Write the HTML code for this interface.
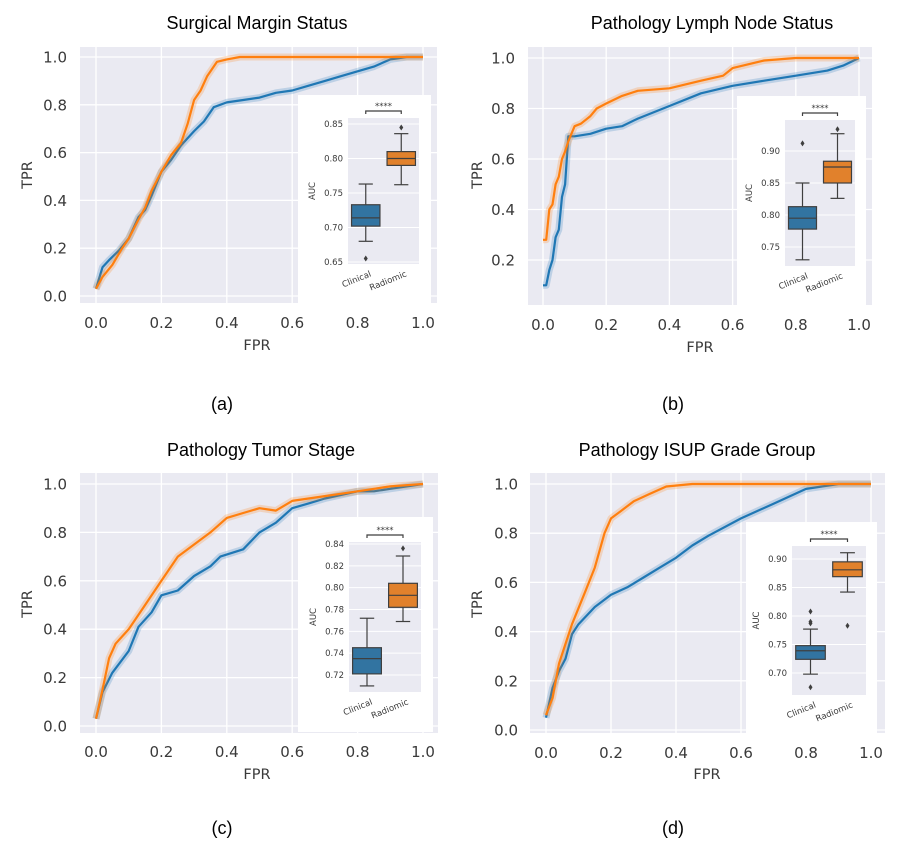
<!DOCTYPE html>
<html><head><meta charset="utf-8">
<style>
body{margin:0;background:#fff;width:898px;height:855px;overflow:hidden}
svg{display:block}
text{font-family:"DejaVu Sans","Liberation Sans",sans-serif}
.title{font-family:"Liberation Sans",sans-serif;font-size:18px;fill:#000}
.cap{font-family:"Liberation Sans",sans-serif;font-size:18px;fill:#000}
.tick{font-size:15px;fill:#3a3a3a}
.alab{font-size:14.5px;fill:#3a3a3a}
.itick{font-size:8.5px;fill:#3a3a3a}
</style></head>
<body>
<svg id="fig" width="898" height="855"></svg>
<script>
// ---------- data ----------
const panelTitles = ["Surgical Margin Status","Pathology Lymph Node Status","Pathology Tumor Stage","Pathology ISUP Grade Group"];
const panelCaptions = ["(a)","(b)","(c)","(d)"];
const rocXTicks = [0,0.2,0.4,0.6,0.8,1.0];
const rocXTickLabels = ["0.0","0.2","0.4","0.6","0.8","1.0"];
const rocYTicksA = [0,0.2,0.4,0.6,0.8,1.0];
const rocYTicksB = [0.2,0.4,0.6,0.8,1.0];
const seriesNames = ["Clinical","Radiomic"];

const aClinFpr = [0,0.02,0.04,0.07,0.1,0.13,0.15,0.17,0.2,0.23,0.26,0.3,0.33,0.36,0.4,0.45,0.5,0.55,0.6,0.65,0.7,0.75,0.8,0.85,0.9,0.95,1.0];
const aClinTpr = [0.03,0.12,0.15,0.19,0.24,0.33,0.36,0.42,0.52,0.57,0.63,0.69,0.73,0.79,0.81,0.82,0.83,0.85,0.86,0.88,0.9,0.92,0.94,0.96,0.99,1.0,1.0];
const aRadFpr = [0,0.02,0.05,0.08,0.1,0.13,0.15,0.17,0.2,0.23,0.26,0.28,0.3,0.32,0.34,0.37,0.4,0.44,1.0];
const aRadTpr = [0.03,0.08,0.13,0.2,0.24,0.32,0.37,0.44,0.52,0.59,0.64,0.72,0.82,0.86,0.92,0.98,0.99,1.0,1.0];

const bClinFpr = [0,0.01,0.02,0.03,0.04,0.05,0.06,0.07,0.08,0.1,0.15,0.2,0.25,0.3,0.4,0.5,0.6,0.7,0.8,0.9,0.95,1.0];
const bClinTpr = [0.1,0.1,0.16,0.2,0.29,0.32,0.45,0.5,0.69,0.69,0.7,0.72,0.73,0.76,0.81,0.86,0.89,0.91,0.93,0.95,0.97,1.0];
const bRadFpr = [0,0.01,0.02,0.03,0.04,0.05,0.06,0.07,0.08,0.1,0.12,0.15,0.17,0.2,0.25,0.3,0.4,0.5,0.57,0.6,0.7,0.8,1.0];
const bRadTpr = [0.28,0.28,0.4,0.42,0.5,0.53,0.6,0.63,0.67,0.73,0.74,0.77,0.8,0.82,0.85,0.87,0.88,0.91,0.93,0.96,0.99,1.0,1.0];

const cClinFpr = [0,0.02,0.05,0.1,0.13,0.17,0.2,0.25,0.3,0.35,0.38,0.45,0.5,0.55,0.6,0.65,0.7,0.8,0.85,0.9,1.0];
const cClinTpr = [0.03,0.14,0.22,0.31,0.41,0.47,0.54,0.56,0.62,0.66,0.7,0.73,0.8,0.84,0.9,0.92,0.94,0.97,0.97,0.98,1.0];
const cRadFpr = [0,0.02,0.04,0.06,0.1,0.15,0.2,0.25,0.3,0.35,0.4,0.45,0.5,0.55,0.6,0.7,0.8,0.9,1.0];
const cRadTpr = [0.03,0.15,0.28,0.34,0.4,0.5,0.6,0.7,0.75,0.8,0.86,0.88,0.9,0.89,0.93,0.95,0.97,0.99,1.0];

const dClinFpr = [0,0.02,0.04,0.06,0.08,0.1,0.15,0.2,0.25,0.3,0.35,0.4,0.45,0.5,0.6,0.7,0.8,0.9,1.0];
const dClinTpr = [0.05,0.17,0.24,0.29,0.39,0.43,0.5,0.55,0.58,0.62,0.66,0.7,0.75,0.79,0.86,0.92,0.98,1.0,1.0];
const dRadFpr = [0,0.02,0.04,0.06,0.08,0.12,0.15,0.18,0.2,0.23,0.27,0.32,0.37,0.45,1.0];
const dRadTpr = [0.06,0.13,0.27,0.35,0.43,0.56,0.66,0.8,0.86,0.89,0.93,0.96,0.99,1.0,1.0];

// box stats: [whiskerLo, q1, median, q3, whiskerHi]
const aBoxClin = [0.68,0.702,0.714,0.733,0.763], aOutClin = [0.655];
const aBoxRad  = [0.762,0.790,0.800,0.810,0.836], aOutRad = [0.845];
const bBoxClin = [0.73,0.778,0.795,0.813,0.85],   bOutClin = [0.912];
const bBoxRad  = [0.826,0.85,0.875,0.884,0.927],  bOutRad = [0.934];
const cBoxClin = [0.71,0.721,0.735,0.745,0.772],  cOutClin = [];
const cBoxRad  = [0.769,0.782,0.793,0.804,0.829], cOutRad = [0.836];
const dBoxClin = [0.698,0.724,0.739,0.748,0.777], dOutClin = [0.675,0.787,0.79,0.808];
const dBoxRad  = [0.842,0.869,0.881,0.895,0.911], dOutRad = [0.783];

const aAucTicks = [0.65,0.70,0.75,0.80,0.85];
const bAucTicks = [0.75,0.80,0.85,0.90];
const cAucTicks = [0.72,0.74,0.76,0.78,0.80,0.82,0.84];
const dAucTicks = [0.70,0.75,0.80,0.85,0.90];

// ---------- layout ----------
const layouts = [
 {bg:[80,47,437,303], x0:96,x1:423, y0:296,y1:57, yt:rocYTicksA, ytx:67, xty:328, tpr:[32,175], fpr:[257,350], title:[257,29], cap:[222,410],
  inset:[298,95,431,303], inner:[348,118,419,264], aucMap:[0.85,124,0.65,262], aucT:aAucTicks, dec:2,
  clin:[aClinFpr,aClinTpr], rad:[aRadFpr,aRadTpr], box:[aBoxClin,aBoxRad], out:[aOutClin,aOutRad]},
 {bg:[528,47,872,305], x0:543,x1:859, y0:310.5,y1:58, yt:rocYTicksB, ytx:515, xty:330, tpr:[482,175], fpr:[700,352], title:[712,29], cap:[673,410],
  inset:[737,96,866,305], inner:[785,120,855,266], aucMap:[0.90,151,0.75,247], aucT:bAucTicks, dec:2,
  clin:[bClinFpr,bClinTpr], rad:[bRadFpr,bRadTpr], box:[bBoxClin,bBoxRad], out:[bOutClin,bOutRad]},
 {bg:[80,473,438,733], x0:96,x1:423, y0:726,y1:484, yt:rocYTicksA, ytx:67, xty:757, tpr:[32,604], fpr:[257,779], title:[261,456], cap:[222,834],
  inset:[298,517,433,732], inner:[349,542,421,692], aucMap:[0.84,544,0.72,675], aucT:cAucTicks, dec:2,
  clin:[cClinFpr,cClinTpr], rad:[cRadFpr,cRadTpr], box:[cBoxClin,cBoxRad], out:[cOutClin,cOutRad]},
 {bg:[530,473,885,733], x0:546,x1:871, y0:730,y1:484, yt:rocYTicksA, ytx:518, xty:758, tpr:[482,604], fpr:[707,779], title:[697,456], cap:[673,834],
  inset:[746,522,877,733], inner:[792,546,866,695], aucMap:[0.90,559,0.70,673], aucT:dAucTicks, dec:2,
  clin:[dClinFpr,dClinTpr], rad:[dRadFpr,dRadTpr], box:[dBoxClin,dBoxRad], out:[dOutClin,dOutRad]}
];

const NS="http://www.w3.org/2000/svg";
const svg=document.getElementById('fig');
function mk(tag,attrs,parent){const e=document.createElementNS(NS,tag);for(const k in attrs)e.setAttribute(k,attrs[k]);(parent||svg).appendChild(e);return e;}

const LINE=["#1f77b4","#ff7f0e"], BOX=["#3274a1","#e1812c"];

layouts.forEach((L,pi)=>{
  const g=mk('g',{});
  
  
  const sx=v=>L.x0+(L.x1-L.x0)*v, sy=v=>L.y0+(L.y1-L.y0)*v;
  const bg=mk('rect',{x:L.bg[0],y:L.bg[1],width:L.bg[2]-L.bg[0],height:L.bg[3]-L.bg[1],fill:'#eaeaf2'},g);
  
  
  rocXTicks.forEach((t,i)=>{
    mk('line',{x1:sx(t),x2:sx(t),y1:L.bg[1],y2:L.bg[3],stroke:'#fff','stroke-width':1.3},g);
    const tx=mk('text',{x:sx(t),y:L.xty,'text-anchor':'middle',class:'tick'},g);tx.textContent=rocXTickLabels[i];
    
    
  });
  L.yt.forEach(t=>{
    mk('line',{x1:L.bg[0],x2:L.bg[2],y1:sy(t),y2:sy(t),stroke:'#fff','stroke-width':1.3},g);
    const ty=mk('text',{x:L.ytx,y:sy(t)+5.5,'text-anchor':'end',class:'tick'},g);ty.textContent=t.toFixed(1);
    
    
  });
  [L.clin,L.rad].forEach((s,si)=>{
    const pts=s[0].map((f,i)=>sx(f).toFixed(1)+','+sy(s[1][i]).toFixed(1)).join(' ');
    const band=mk('polyline',{points:pts,fill:'none',stroke:LINE[si],'stroke-width':7,'stroke-opacity':0.22,'stroke-linejoin':'round'},g);
    
    
    const ln=mk('polyline',{points:pts,fill:'none',stroke:LINE[si],'stroke-width':2.2,'stroke-linejoin':'round'},g);
    
    
  });
  const t=mk('text',{x:L.title[0],y:L.title[1],'text-anchor':'middle',class:'title'},g);t.textContent=panelTitles[pi];
  
  
  const yl=mk('text',{x:L.tpr[0],y:L.tpr[1],'text-anchor':'middle',class:'alab',transform:`rotate(-90 ${L.tpr[0]} ${L.tpr[1]})`},g);yl.textContent='TPR';
  
  
  const xl=mk('text',{x:L.fpr[0],y:L.fpr[1],'text-anchor':'middle',class:'alab'},g);xl.textContent='FPR';
  
  
  const cp=mk('text',{x:L.cap[0],y:L.cap[1],'text-anchor':'middle',class:'cap'},g);cp.textContent=panelCaptions[pi];
  
  

  // inset
  const ig=mk('g',{},g);
  
  
  mk('rect',{x:L.inset[0],y:L.inset[1],width:L.inset[2]-L.inset[0],height:L.inset[3]-L.inset[1],fill:'#fff'},ig);
  const [ix0,iy0,ix1,iy1]=L.inner;
  mk('rect',{x:ix0,y:iy0,width:ix1-ix0,height:iy1-iy0,fill:'#eaeaf2'},ig);
  const [v1,p1,v2,p2]=L.aucMap; const ay=v=>p1+(v-v1)*(p2-p1)/(v2-v1);
  L.aucT.forEach(v=>{
    mk('line',{x1:ix0,x2:ix1,y1:ay(v),y2:ay(v),stroke:'#fff','stroke-width':1},ig);
    const tt=mk('text',{x:ix0-5,y:ay(v)+3,'text-anchor':'end',class:'itick'},ig);tt.textContent=v.toFixed(L.dec);
    
    
  });
  const al=mk('text',{x:ix0-33,y:(iy0+iy1)/2,'text-anchor':'middle',class:'itick',transform:`rotate(-90 ${ix0-33} ${(iy0+iy1)/2})`},ig);al.textContent='AUC';
  
  
  const w=ix1-ix0, bw=w*0.4, cx=[ix0+w*0.25,ix0+w*0.75];
  L.box.forEach((b,bi)=>{
    const bg2=mk('g',{},ig);
    
    
    const c=cx[bi], sc='#3f3f3f';
    mk('line',{x1:c,x2:c,y1:ay(b[0]),y2:ay(b[1]),stroke:sc,'stroke-width':1.2},bg2);
    mk('line',{x1:c,x2:c,y1:ay(b[3]),y2:ay(b[4]),stroke:sc,'stroke-width':1.2},bg2);
    mk('line',{x1:c-bw/4,x2:c+bw/4,y1:ay(b[0]),y2:ay(b[0]),stroke:sc,'stroke-width':1.2},bg2);
    mk('line',{x1:c-bw/4,x2:c+bw/4,y1:ay(b[4]),y2:ay(b[4]),stroke:sc,'stroke-width':1.2},bg2);
    mk('rect',{x:c-bw/2,y:ay(b[3]),width:bw,height:ay(b[1])-ay(b[3]),fill:BOX[bi],stroke:sc,'stroke-width':1.2},bg2);
    mk('line',{x1:c-bw/2,x2:c+bw/2,y1:ay(b[2]),y2:ay(b[2]),stroke:sc,'stroke-width':1.2},bg2);
    L.out[bi].forEach(o=>{
      const oy=ay(o);
      const d=mk('path',{d:`M${c} ${oy-3}L${c+2} ${oy}L${c} ${oy+3}L${c-2} ${oy}Z`,fill:sc},bg2);
      
      
    });
    const lx=c+6, ly=iy1+12;
    const lt=mk('text',{x:lx,y:ly,'text-anchor':'end',class:'itick',transform:`rotate(-22 ${lx} ${ly})`,'font-size':'9.5'},ig);lt.textContent=seriesNames[bi];
    
    
  });
  const by=iy0-7;
  const br=mk('path',{d:`M${cx[0]} ${by+3}V${by}H${cx[1]}V${by+3}`,fill:'none',stroke:'#3f3f3f','stroke-width':1.2},ig);
  
  
  const st=mk('text',{x:(cx[0]+cx[1])/2,y:by-2,'text-anchor':'middle',class:'itick'},ig);st.textContent='****';
  
  
});
</script>
</body></html>
